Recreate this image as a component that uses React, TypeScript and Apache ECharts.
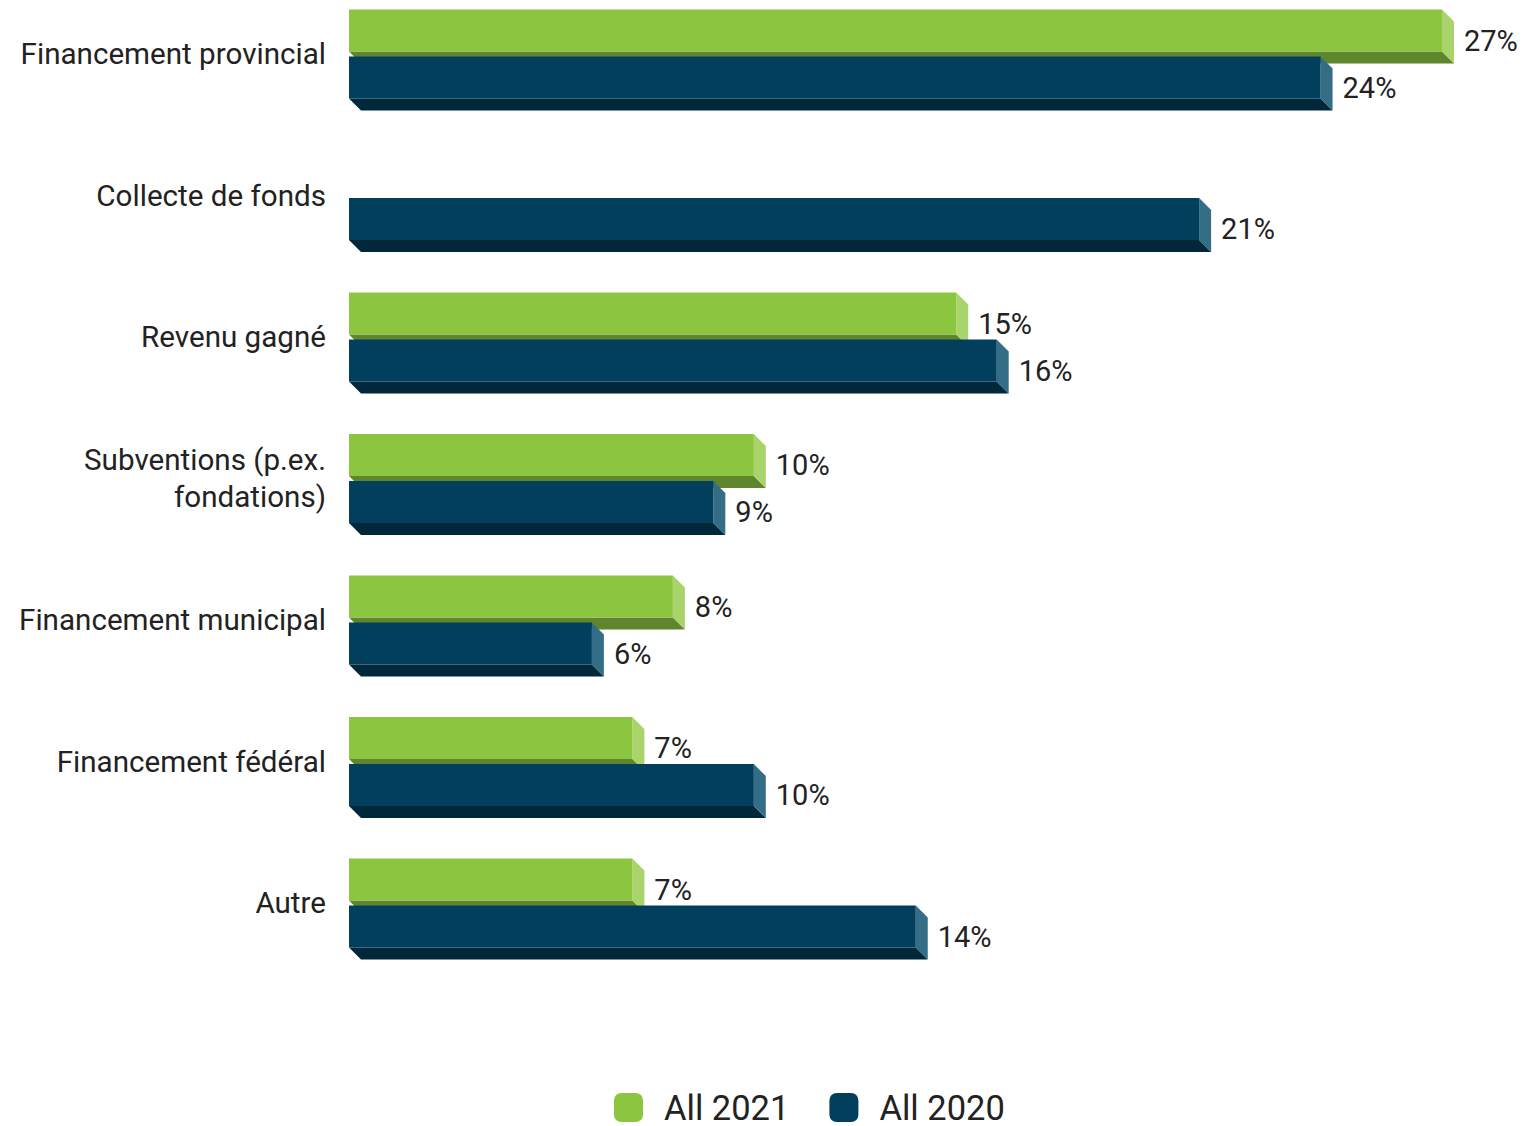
import React, { useEffect, useRef } from "react";
import * as echarts from "echarts";

const categories = [
  "Financement provincial",
  "Collecte de fonds",
  "Revenu gagné",
  "Subventions (p.ex.\nfondations)",
  "Financement municipal",
  "Financement fédéral",
  "Autre",
];
const values2021: (number | null)[] = [27, null, 15, 10, 8, 7, 7];
const values2020: (number | null)[] = [24, 21, 16, 9, 6, 10, 14];
const seriesNames = ["All 2021", "All 2020"];

const palette = [
  { front: "#8cc640", side: "#a8d46b", bottom: "#5f862d" },
  { front: "#023f5c", side: "#336d86", bottom: "#01283a" },
];

const DEPTH = 12;
const BAR_H = 42;
const GAP = 2.5;
const SHIFT = 17; // the chart div is moved up by this many pixels

function makeRender(idx: number) {
  const col = palette[idx];
  return (params: any, api: any) => {
    const v = api.value(0);
    const cat = api.value(1);
    const s = api.coord([0, cat]);
    const e = api.coord([v, cat]);
    const cy = s[1];
    const top = idx === 0 ? cy - GAP - BAR_H : cy + GAP;
    const bot = top + BAR_H;
    const x0 = s[0];
    const x1 = e[0];
    const D = DEPTH;
    return {
      type: "group",
      children: [
        {
          type: "polygon",
          shape: { points: [[x0, bot], [x1, bot], [x1 + D, bot + D], [x0 + D, bot + D]] },
          style: { fill: col.bottom },
        },
        {
          type: "polygon",
          shape: { points: [[x1, top], [x1 + D, top + D], [x1 + D, bot + D], [x1, bot]] },
          style: { fill: col.side },
        },
        {
          type: "rect",
          shape: { x: x0, y: top, width: x1 - x0, height: BAR_H },
          style: { fill: col.front },
        },
        {
          type: "text",
          x: x1 + D + 10,
          y: (top + bot + D) / 2 + 4,
          style: {
            text: v + "%",
            fill: "#222",
            font: "29px Roboto",
            verticalAlign: "middle",
            align: "left",
          },
        },
      ],
    };
  };
}

function toData(vals: (number | null)[]) {
  const out: any[] = [];
  vals.forEach((v, i) => {
    if (v !== null) out.push([v, i]);
  });
  return out;
}

export default function App() {
  const ref = useRef<HTMLDivElement>(null);
  useEffect(() => {
    const chart = echarts.init(ref.current!, null, { renderer: "svg" });
    chart.setOption({
      animation: false,
      backgroundColor: "#ffffff",
      grid: { left: 349, width: 1093, top: 0.25, height: 990.5 },
      xAxis: { type: "value", min: 0, max: 27, show: false },
      yAxis: {
        type: "category",
        inverse: true,
        data: categories,
        axisLine: { show: false },
        axisTick: { show: false },
        splitLine: { show: false },
        axisLabel: {
          fontSize: 29.6,
          fontFamily: "Roboto",
          color: "#222",
          margin: 23,
          lineHeight: 37,
          align: "right",
        },
      },
      legend: {
        data: seriesNames,
        left: 614,
        top: 1090 + SHIFT,
        padding: 0,
        icon: "roundRect",
        itemWidth: 29,
        itemHeight: 29,
        itemGap: 40,
        textStyle: {
          fontSize: 34.5,
          lineHeight: 29,
          fontFamily: "Roboto",
          color: "#222",
          padding: [0, 0, 0, 16],
        },
      },
      series: [
        {
          name: seriesNames[0],
          type: "custom",
          renderItem: makeRender(0),
          encode: { x: 0, y: 1 },
          itemStyle: { color: palette[0].front },
          data: toData(values2021),
        },
        {
          name: seriesNames[1],
          type: "custom",
          renderItem: makeRender(1),
          encode: { x: 0, y: 1 },
          itemStyle: { color: palette[1].front },
          data: toData(values2020),
        },
      ],
    });
    return () => chart.dispose();
  }, []);
  return (
    <div
      ref={ref}
      style={{ position: "fixed", left: 0, top: -SHIFT, width: 1524, height: 1126 + SHIFT }}
    />
  );
}
